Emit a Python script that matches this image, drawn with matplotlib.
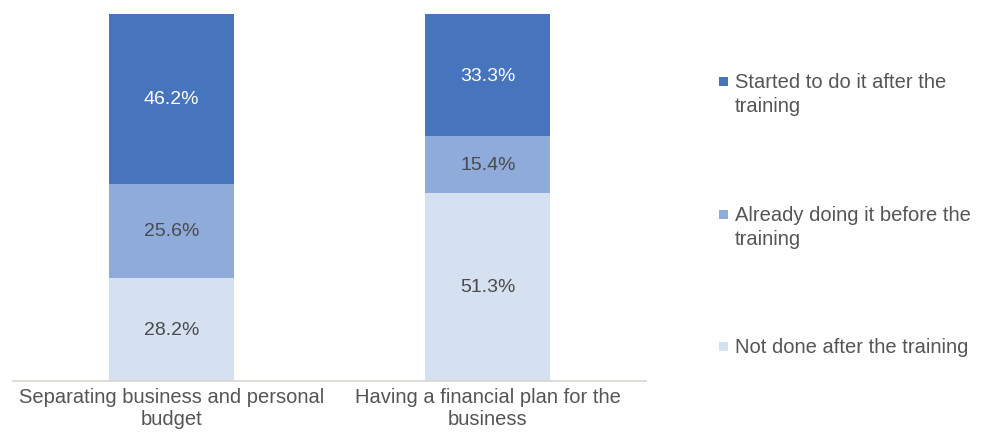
import matplotlib
matplotlib.use('Agg')
import matplotlib.pyplot as plt
from matplotlib.patches import Rectangle
import numpy as np

plt.rcParams['font.family'] = ['Liberation Sans', 'DejaVu Sans']

# data
categories = ['Separating business and personal\nbudget',
              'Having a financial plan for the\nbusiness']
not_done = [28.2, 51.3]
already_doing = [25.6, 15.4]
started_after = [46.2, 33.3]
series_labels = ['Not done after the training',
                 'Already doing it before the\ntraining',
                 'Started to do it after the\ntraining']

colors = ['#D5E0F1', '#8EABDA', '#4674BD']
text_colors = ['#4a4a4a', '#4a4a4a', 'white']

fig = plt.figure(figsize=(9.84, 4.39), dpi=100)
ax = fig.add_axes([13 / 984, 57 / 439, 633 / 984, 367 / 439])

x = np.arange(len(categories))
bottom = np.zeros(len(categories))
series = [not_done, already_doing, started_after]
for vals, col, tcol in zip(series, colors, text_colors):
    vals = np.array(vals)
    ax.bar(x, vals, 0.395, bottom=bottom, color=col, edgecolor='none')
    for xi, b, v in zip(x, bottom, vals):
        ax.text(xi, b + v / 2, f'{v:.1f}%', ha='center', va='center',
                fontsize=14, color=tcol)
    bottom += vals

ax.set_xlim(-0.5, 1.5)
ax.set_ylim(0, 100)
ax.set_yticks([])
ax.set_xticks(x)
ax.set_xticklabels(categories, fontsize=14.5, color='#555555', linespacing=1.2)
ax.tick_params(axis='x', length=0, pad=4)
for s in ['top', 'right', 'left']:
    ax.spines[s].set_visible(False)
ax.spines['bottom'].set_color('#d9d4d0')
ax.spines['bottom'].set_linewidth(1.2)

# legend (drawn by hand so the marker sits on the first line)
legend_rows = [82, 215, 347]  # pixel y of first text line, top to bottom
for lab, col, ypx in zip(series_labels[::-1], colors[::-1], legend_rows):
    yf = 1 - ypx / 439
    fig.patches.append(Rectangle((719 / 984, yf - 4.5 / 439), 9 / 984, 9 / 439,
                                 transform=fig.transFigure, facecolor=col,
                                 edgecolor='none'))
    fig.text(735 / 984, yf + 9 / 439, lab, ha='left', va='top', fontsize=14.5,
             color='#555555', linespacing=1.35)

fig.savefig('out.png', dpi=100, facecolor='white')
